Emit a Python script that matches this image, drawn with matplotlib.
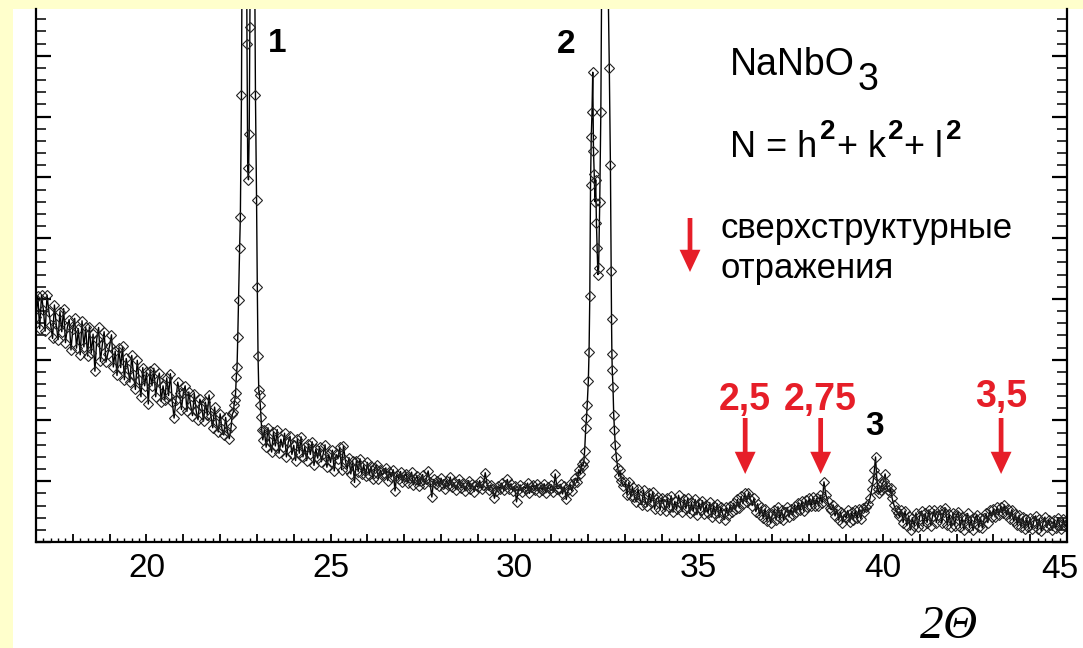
import numpy as np
import matplotlib
matplotlib.use('Agg')
import matplotlib.pyplot as plt
from matplotlib.patches import Rectangle
from matplotlib.ticker import MultipleLocator, FuncFormatter

W, H = 1083, 648
YELLOW = '#FFFFCC'
RED = '#E61E28'
plt.rcParams['font.family'] = ['Liberation Sans', 'DejaVu Sans']

# ---- данные: NaNbO3, 2Θ (шаг фона 0.05) и интенсивность ----
bg1_start = 17.00
bg1 = [370, 405, 351, 407, 382, 347, 406, 379, 357, 335,
       390, 358, 333, 379, 346, 384, 328, 353, 366, 316,
       350, 368, 319, 351, 308, 364, 321, 353, 306, 354,
       311, 342, 281, 334, 353, 297, 324, 346, 296, 310,
       323, 341, 288, 314, 274, 319, 287, 322, 267, 302,
       285, 263, 307, 275, 251, 299, 266, 239, 287, 257,
       279, 227, 282, 257, 286, 239, 266, 278, 231, 257,
       234, 270, 241, 277, 231, 204, 233, 263, 245, 218,
       245, 257, 215, 247, 225, 208, 244, 216, 201, 235,
       224, 199, 230, 209, 242, 207, 188, 222, 195, 181,
       211, 186, 176, 205, 182, 170, 190]

peak1_x = [22.33, 22.36, 22.38, 22.40, 22.42, 22.44, 22.46, 22.48, 22.50, 22.53,
           22.55, 22.58, 22.62, 22.66, 22.70, 22.73, 22.75, 22.77, 22.79, 22.81,
           22.84, 22.88, 22.92, 22.96, 22.99, 23.01, 23.03, 23.05, 23.07, 23.09,
           23.11, 23.13, 23.16]
peak1_y = [210, 214, 226, 234, 245, 272, 288, 338, 399, 484,
           535, 735, 1300, 1650, 1250, 820, 616, 596, 672, 848,
           1400, 1700, 1150, 735, 562, 420, 306, 250, 242, 226,
           206, 185, 168]

bg2_start = 23.20
bg2 = [184, 156, 188, 164, 148, 181, 158, 185, 146, 169,
       156, 179, 140, 164, 174, 144, 159, 134, 170, 146,
       173, 140, 157, 134, 161, 144, 165, 126, 153, 138,
       157, 132, 145, 160, 123, 144, 131, 151, 117, 144,
       137, 156, 119, 158, 135, 120, 139, 112, 133, 98,
       133, 116, 137, 112, 127, 108, 131, 110, 125, 104,
       121, 126, 104, 118, 110, 113, 122, 101, 115, 107,
       119, 84, 111, 104, 116, 98, 108, 112, 97, 105,
       115, 94, 103, 109, 92, 101, 111, 95, 104, 117,
       98, 74, 103, 96, 100, 92, 105, 95, 88, 101,
       93, 107, 90, 98, 86, 95, 103, 89, 97, 84,
       93, 101, 87, 96, 83, 94, 90, 101, 88, 93,
       114, 96, 85, 94, 87, 72, 84, 92, 88, 97,
       85, 93, 103, 88, 96, 84, 92, 66, 86, 94,
       82, 91, 88, 97, 80, 90, 93, 85, 95, 83,
       91, 86, 96, 81, 90, 87, 94, 82, 112, 88,
       88, 95, 79, 92, 70, 86, 95, 84, 97]

peak2_x = [31.65, 31.70, 31.74, 31.78, 31.82, 31.85, 31.88, 31.90, 31.93, 31.95,
           31.97, 32.00, 32.02, 32.04, 32.06, 32.08, 32.10, 32.12, 32.14, 32.16,
           32.18, 32.20, 32.22, 32.24, 32.26, 32.28, 32.31, 32.34, 32.37, 32.41,
           32.45, 32.49, 32.53, 32.57, 32.60, 32.62, 32.63, 32.64, 32.65, 32.67,
           32.69, 32.71, 32.73, 32.76, 32.80, 32.83, 32.86, 32.90, 32.95]
peak2_y = [105, 98, 119, 112, 128, 125, 133, 150, 188, 204,
           226, 265, 313, 405, 588, 667, 707, 773, 644, 606,
           560, 596, 525, 484, 440, 451, 560, 707, 1000, 1350,
           1500, 1200, 950, 780, 621, 446, 367, 310, 283, 255,
           209, 185, 160, 140, 122, 108, 118, 100, 92]

bg3_start = 33.00
bg3 = [98, 78, 98, 76, 91, 74, 66, 87, 71, 61,
       85, 66, 59, 80, 65, 83, 54, 71, 74, 53,
       73, 62, 51, 72, 57, 76, 49, 67, 54, 77,
       64, 50, 70, 55, 72, 47, 65, 51, 70, 45,
       64, 52, 68, 46, 61, 48, 65, 41, 60, 46,
       63, 40, 57, 46, 37, 57, 44, 60, 50, 64,
       54, 70, 56, 75, 63, 80, 66, 81, 70, 60,
       72, 50, 63, 44, 57, 39, 54, 34, 48, 31,
       46, 53, 36, 58, 39, 52, 36, 50, 57, 41,
       54, 44, 60, 49, 64, 52, 67, 51, 69, 58,
       72, 59, 74, 59, 72, 59, 77, 64, 99, 78,
       67, 56, 53, 61, 43, 54, 36, 50, 32, 45,
       40, 52, 33, 49, 37, 52, 39, 54, 38, 56,
       50]

peak3_x = [39.55, 39.60, 39.65, 39.70, 39.74, 39.77, 39.80, 39.83, 39.86, 39.90,
           39.94, 39.98, 40.02, 40.06, 40.10, 40.14, 40.18, 40.21, 40.25, 40.30,
           40.35, 40.40]
peak3_y = [58, 62, 72, 88, 102, 119, 140, 108, 88, 80,
           86, 95, 100, 112, 92, 85, 82, 89, 72, 61,
           52, 47]

bg4_start = 40.45
bg4 = [42, 53, 32, 51, 27, 43, 20, 40, 27, 48, 24,
       42, 51, 27, 47, 32, 53, 27, 43, 53, 32,
       45, 52, 31, 50, 56, 28, 46, 24, 47, 27,
       45, 50, 24, 41, 20, 39, 47, 24, 37, 19,
       39, 45, 24, 40, 23, 39, 47, 32, 52, 41,
       54, 41, 57, 45, 58, 48, 61, 45, 55, 38,
       53, 34, 46, 28, 44, 25, 41, 22, 38, 25,
       40, 21, 34, 43, 22, 38, 18, 32, 41, 24,
       37, 28, 19, 36, 23, 40, 29, 21, 38, 26,
       31]

STEP = 0.05


def grid(start, vals):
    return np.round(start + STEP * np.arange(len(vals)), 2)


tth = np.concatenate([grid(bg1_start, bg1), peak1_x, grid(bg2_start, bg2), peak2_x,
                      grid(bg3_start, bg3), peak3_x, grid(bg4_start, bg4)])
cnt = np.concatenate([bg1, peak1_y, bg2, peak2_y, bg3, peak3_y, bg4]).astype(float)

# подписи
peak_labels = ['1', '2', '3']
super_labels = ['2,5', '2,75', '3,5']
super_pos = [36.26, 38.31, 43.21]

fig = plt.figure(figsize=(W / 100, H / 100), dpi=100, facecolor=YELLOW)
fig.patches.append(Rectangle((13 / W, 0), 1 - 13 / W, 1 - 9 / H, transform=fig.transFigure,
                             facecolor='white', edgecolor='none', zorder=-1))

ax = fig.add_axes([36 / W, 1 - 542 / H, (1067 - 36) / W, (542 - 9) / H])
ax.plot(tth, cnt, '-', color='black', lw=1.0, marker='D', ms=4.8,
        mfc='none', mec='#222222', mew=0.8)
ax.set_xlim(17, 45)
ax.set_ylim(0, 877)

ax.spines['top'].set_visible(False)
for s in ['left', 'bottom', 'right']:
    ax.spines[s].set_linewidth(1.6)

ax.xaxis.set_major_locator(MultipleLocator(1))
ax.xaxis.set_minor_locator(MultipleLocator(0.2))
# 45 подписываем отдельно (сдвинута влево, как в оригинале)
ax.xaxis.set_major_formatter(FuncFormatter(
    lambda v, p: f'{v:.0f}' if abs(v / 5 - round(v / 5)) < 1e-6 and v < 44.5 else ''))
ax.yaxis.set_major_locator(MultipleLocator(100))
ax.yaxis.set_minor_locator(MultipleLocator(20))

ax.tick_params(axis='x', which='both', direction='in', top=False, labelsize=24, pad=8)
ax.tick_params(axis='x', which='major', length=5.5, width=1.3)
ax.tick_params(axis='x', which='minor', length=2.8, width=1.0)
ax.tick_params(axis='y', which='both', direction='in', left=True, right=True, labelleft=False)
ax.tick_params(axis='y', which='major', length=10.5, width=1.6)
ax.tick_params(axis='y', which='minor', length=7.2, width=1.1)

renderer = fig.canvas.get_renderer()


def ftext(x, y, s, **kw):
    return fig.text(x / W, 1 - y / H, s, va='baseline', **kw)


def chain(x, pieces):
    # pieces: (текст, базовая линия, отступ, параметры)
    for s, y, gap, kw in pieces:
        t = ftext(x + gap, y, s, **kw)
        x = t.get_window_extent(renderer).x1


ftext(1060, 578, '45', fontsize=24, ha='center')

# номера рефлексов
ftext(268, 52, peak_labels[0], fontsize=24, fontweight='bold')
ftext(557, 53, peak_labels[1], fontsize=24, fontweight='bold')
ftext(875, 435, peak_labels[2], fontsize=24, fontweight='bold', ha='center')

# формулы
big = dict(fontsize=27)
sup = dict(fontsize=20, fontweight='bold')
chain(730, [('NaNbO', 75, 0, big), ('3', 90, 3, big)])
chain(730, [('N = h', 157, 0, dict(fontsize=26)), ('2', 139, 3, sup),
            ('+ k', 157, 1, dict(fontsize=26)), ('2', 139, 2, sup),
            ('+ l', 157, 1, dict(fontsize=26)), ('2', 139, 3, sup)])

ftext(720, 238, 'сверхструктурные', fontsize=25)
ftext(720, 278, 'отражения', fontsize=25)

arrow_style = dict(arrowstyle='simple,head_length=0.8,head_width=0.75,tail_width=0.17',
                   mutation_scale=20, color=RED, lw=0, shrinkA=0, shrinkB=0)
ax.annotate('', xy=(690, H - 272), xytext=(690, H - 218), xycoords='figure pixels',
            textcoords='figure pixels', arrowprops=arrow_style, annotation_clip=False)

label_y = [410, 410, 407]
for lab, xp, ly in zip(super_labels, super_pos, label_y):
    ax.annotate('', xy=(xp, H - 474), xytext=(xp, H - 418), xycoords=('data', 'figure pixels'),
                textcoords=('data', 'figure pixels'), arrowprops=arrow_style, annotation_clip=False)
    ax.annotate(lab, xy=(xp, H - ly), xycoords=('data', 'figure pixels'), ha='center',
                va='baseline', fontsize=27, fontweight='bold', color=RED, annotation_clip=False)

serif = dict(fontsize=34, fontstyle='italic', family='Liberation Serif')
ftext(920, 638, '2', **serif)
ftext(943, 638, 'Θ', **serif)

fig.savefig('out.png', dpi=100, facecolor=YELLOW)
